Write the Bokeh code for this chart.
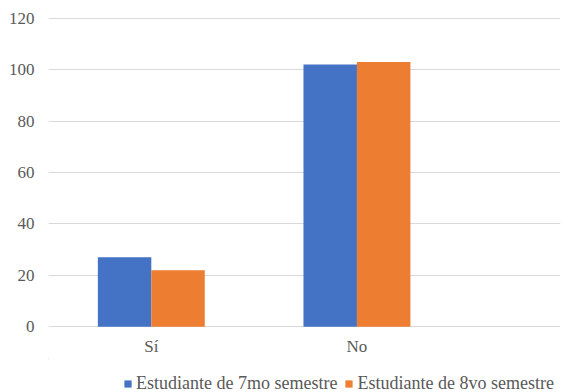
from bokeh.plotting import figure
from bokeh.layouts import column
from bokeh.models import ColumnDataSource, Range1d, FixedTicker, Legend, LegendItem
from bokeh.transform import dodge
from bokeh.embed import file_html
from bokeh.resources import INLINE

categories = ["Sí", "No"]
series_names = ["Estudiante de 7mo semestre", "Estudiante de 8vo semestre"]
sem7 = [27, 102]
sem8 = [22, 103]
y_ticks = [0, 20, 40, 60, 80, 100, 120]
colors = ["#4472C4", "#ED7D31"]

positions = list(range(len(categories)))
src = ColumnDataSource(dict(x=positions, sem7=sem7, sem8=sem8))

FONT = "Liberation Serif"
TXT = "#595959"

p = figure(width=566, height=358, output_backend="svg", toolbar_location=None,
           x_range=Range1d(-0.5, 1.99), y_range=Range1d(-0.3, 120.3),
           min_border_left=48, min_border_right=6, min_border_top=17, min_border_bottom=30)
p.outline_line_color = None
p.background_fill_color = "white"

r1 = p.vbar(x=dodge("x", -0.13), top="sem7", width=0.26, bottom=0,
            source=src, fill_color=colors[0], line_color=None)
r2 = p.vbar(x=dodge("x", 0.13), top="sem8", width=0.26, bottom=0,
            source=src, fill_color=colors[1], line_color=None)

p.xgrid.grid_line_color = None
p.ygrid.grid_line_color = "#d9d9d9"
p.ygrid.ticker = FixedTicker(ticks=y_ticks)

p.yaxis.ticker = FixedTicker(ticks=y_ticks)
p.xaxis.ticker = FixedTicker(ticks=positions)
p.xaxis.major_label_overrides = {i: c for i, c in enumerate(categories)}

for ax in (p.xaxis[0], p.yaxis[0]):
    ax.axis_line_color = None
    ax.major_tick_line_color = None
    ax.minor_tick_line_color = None
    ax.major_tick_out = 0
    ax.major_tick_in = 0
    ax.major_label_text_font = FONT
    ax.major_label_text_font_size = "17px"
    ax.major_label_text_color = TXT
p.yaxis.major_label_standoff = 14
p.xaxis.major_label_standoff = 9

# legend strip below the chart (its renderers share the data but lie far outside the view)
lg = figure(width=566, height=34, output_backend="svg", toolbar_location=None,
            x_range=Range1d(50, 51), y_range=Range1d(-1000, -999),
            x_axis_type=None, y_axis_type=None,
            min_border_left=48, min_border_right=6, min_border_top=0, min_border_bottom=0)
lg.outline_line_color = None
l1 = lg.vbar(x="x", top="sem7", width=0.26, source=src, fill_color=colors[0], line_color=None)
l2 = lg.vbar(x="x", top="sem8", width=0.26, source=src, fill_color=colors[1], line_color=None)
legend = Legend(items=[LegendItem(label=series_names[0], renderers=[l1]),
                       LegendItem(label=series_names[1], renderers=[l2])],
                orientation="horizontal", location=(75, -2),
                label_text_font=FONT, label_text_font_size="18px", label_text_color=TXT,
                glyph_width=9, glyph_height=9, label_standoff=4, spacing=7,
                padding=0, margin=0, border_line_color=None, background_fill_alpha=0)
lg.add_layout(legend, "center")

layout = column(p, lg, spacing=0)
open("out.html", "w").write(file_html(layout, INLINE))
